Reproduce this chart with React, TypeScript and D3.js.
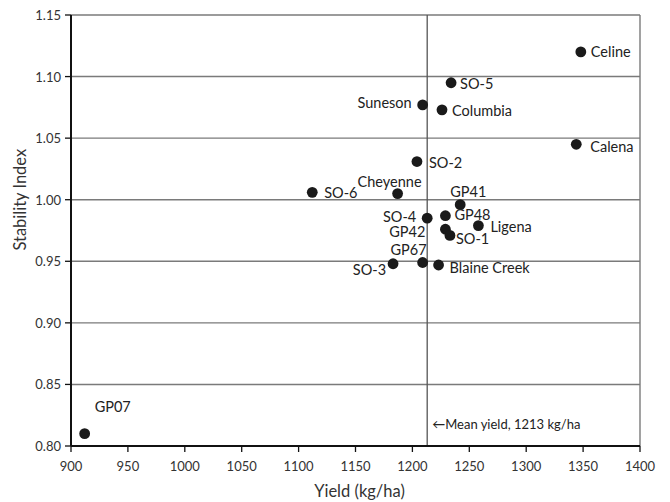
import * as d3 from "d3";

const varieties = ["GP07", "Celine", "SO-5", "Suneson", "Columbia", "Calena", "SO-2", "SO-6", "Cheyenne", "GP41", "GP48", "SO-4", "Ligena", "GP42", "SO-1", "GP67", "SO-3", "Blaine Creek"];
const yields = [912, 1348, 1234, 1209, 1226, 1344, 1204, 1112, 1187, 1242, 1229, 1213, 1258, 1229, 1233, 1209, 1183, 1223];
const stability = [0.810, 1.120, 1.095, 1.077, 1.073, 1.045, 1.031, 1.006, 1.005, 0.996, 0.987, 0.985, 0.979, 0.976, 0.971, 0.949, 0.948, 0.947];

const xTicks = [900, 950, 1000, 1050, 1100, 1150, 1200, 1250, 1300, 1350, 1400];
const yTicks = [0.80, 0.85, 0.90, 0.95, 1.00, 1.05, 1.10, 1.15];
const meanYield = 1213;

// label placement relative to each dot: [anchor, dx, dy]
const labelPlace: Record<string, [string, number, number]> = {
  "GP07": ["start", 10, -27],
  "Celine": ["start", 10, 0],
  "SO-5": ["start", 9, 1],
  "Suneson": ["end", -11, -2],
  "Columbia": ["start", 10, 1],
  "Calena": ["start", 14, 2],
  "SO-2": ["start", 12, 1],
  "SO-6": ["start", 12, 0],
  "Cheyenne": ["end", 24, -12],
  "GP41": ["start", -10, -13],
  "GP48": ["start", 9, -1],
  "SO-4": ["end", -11, -2],
  "Ligena": ["start", 12, 1],
  "GP42": ["end", -20, 2],
  "SO-1": ["start", 6, 3],
  "GP67": ["end", 4, -13],
  "SO-3": ["end", -7, 6],
  "Blaine Creek": ["start", 11, 3],
};

const width = 670;
const height = 502;
const margin = { top: 15, right: 30, bottom: 56, left: 71 };
const font = "Lato, 'Open Sans', sans-serif";

export default function App() {
  const x = d3.scaleLinear().domain([900, 1400]).range([margin.left, width - margin.right]);
  const y = d3.scaleLinear().domain([0.80, 1.15]).range([height - margin.bottom, margin.top]);
  const [x0, x1] = x.range();
  const [y0, y1] = y.range();

  return (
    <svg width={width} height={height} style={{ position: "absolute", left: 0, top: 0, background: "#fff" }}>
      {/* gridlines */}
      {yTicks.slice(1).map((t) => (
        <line key={t} x1={x0} x2={x1} y1={y(t)} y2={y(t)} stroke="#7a7a7a" strokeWidth={1.4} />
      ))}
      <line x1={x1} x2={x1} y1={y1} y2={y0} stroke="#7a7a7a" strokeWidth={1.4} />
      {/* mean line */}
      <line x1={x(meanYield)} x2={x(meanYield)} y1={y1} y2={y0} stroke="#555" strokeWidth={1.3} />
      <text x={x(meanYield) + 5} y={y(0.818)} fontFamily={font} fontSize={13} fill="#222" dominantBaseline="central">
        ←Mean yield, {meanYield} kg/ha
      </text>

      {/* axes */}
      <line x1={x0} x2={x1} y1={y0} y2={y0} stroke="#111" strokeWidth={2} />
      <line x1={x0} x2={x0} y1={y1} y2={y0} stroke="#111" strokeWidth={2} />
      {yTicks.map((t) => (
        <g key={t}>
          <line x1={x0 - 6} x2={x0} y1={y(t)} y2={y(t)} stroke="#111" strokeWidth={1.3} />
          <text x={x0 - 10} y={y(t)} textAnchor="end" dominantBaseline="central" fontFamily={font} fontSize={13} fill="#333">
            {t.toFixed(2)}
          </text>
        </g>
      ))}
      {xTicks.map((t) => (
        <g key={t}>
          <line x1={x(t)} x2={x(t)} y1={y0} y2={y0 + 6} stroke="#111" strokeWidth={1.3} />
          <text x={x(t)} y={y0 + 20} textAnchor="middle" dominantBaseline="central" fontFamily={font} fontSize={13} fill="#333">
            {t}
          </text>
        </g>
      ))}
      <text x={(x0 + x1) / 2 + 4} y={491} textAnchor="middle" dominantBaseline="central" fontFamily={font} fontSize={16.5} fill="#333">
        Yield (kg/ha)
      </text>
      <text transform={`translate(20, ${y(1.0)}) rotate(-90)`} textAnchor="middle" dominantBaseline="central" fontFamily={font} fontSize={16.5} fill="#333">
        Stability  Index
      </text>

      {/* points */}
      {varieties.map((name, i) => {
        const [anchor, dx, dy] = labelPlace[name];
        const cx = x(yields[i]);
        const cy = y(stability[i]);
        return (
          <g key={name}>
            <circle cx={cx} cy={cy} r={5.4} fill="#1a1a1a" />
            <text x={cx + dx} y={cy + dy} textAnchor={anchor} dominantBaseline="central" fontFamily={font} fontSize={14.5} fill="#222">
              {name}
            </text>
          </g>
        );
      })}
    </svg>
  );
}
